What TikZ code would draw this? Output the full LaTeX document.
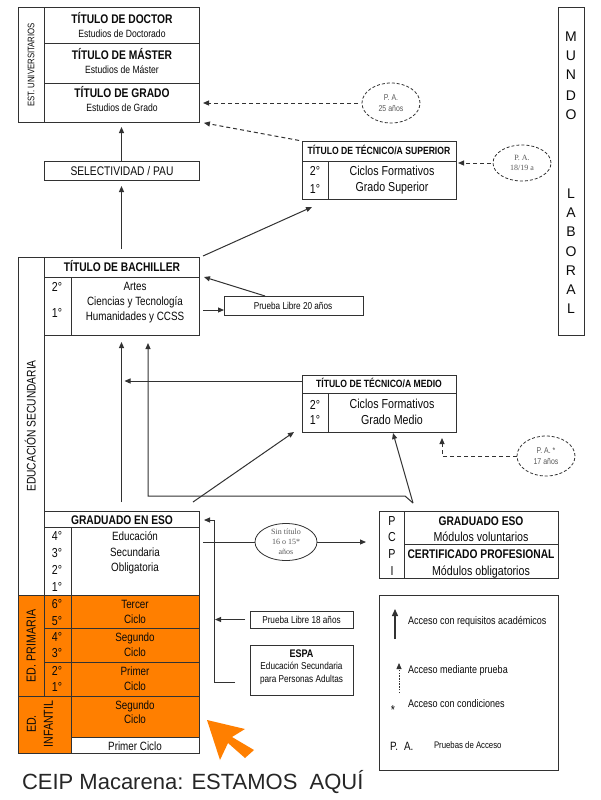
\documentclass[tikz,border=0pt]{standalone}
\usepackage{fontspec}
\setmainfont{Liberation Sans}[FakeStretch=0.82]
\newfontfamily\plainsans{Liberation Sans}
\newfontfamily\serifsm{Liberation Serif}
\usetikzlibrary{arrows.meta,shapes.geometric,calc}
\newcommand{\fsz}[1]{\fontsize{#1}{#1}\selectfont}
\definecolor{orgc}{RGB}{255,127,0}
\definecolor{lc}{RGB}{50,50,50}
\definecolor{tc}{RGB}{10,10,10}
\definecolor{gc}{RGB}{90,90,90}
\tikzset{
  box/.style={draw=lc,line width=1pt,rectangle,inner sep=0pt,outer sep=0pt,anchor=north west},
  obox/.style={box,fill=orgc},
  ln/.style={draw=lc,line width=1pt},
  tb/.style={inner sep=0pt,outer sep=0pt,text=tc,text depth=0pt},
  ttl/.style={tb,font=\fsz{12.5}\bfseries,text height=9pt},
  ttls/.style={tb,font=\fsz{10.5}\bfseries,text height=7.6pt},
  sub/.style={tb,font=\fsz{10.5},text height=7.6pt},
  mid/.style={tb,font=\fsz{12},text height=8.6pt},
  big/.style={tb,font=\fsz{13},text height=9.3pt},
  sml/.style={tb,font=\fsz{10},text height=7.2pt},
  leg/.style={tb,font=\fsz{11},text height=7.9pt,anchor=west},
  letter/.style={tb,font=\plainsans\fsz{14},text height=10pt},
  rot/.style={tb,rotate=90},
  pa/.style={ellipse,draw=lc,line width=0.8pt,dash pattern=on 3pt off 2pt,inner sep=0pt,outer sep=0pt,
     minimum width=58pt,minimum height=40pt,align=center,text=gc,font={\fontsize{8.5}{11}\selectfont}},
  arr/.style={ln,-{Triangle[length=6pt,width=5pt]}},
  darr/.style={arr,dash pattern=on 4pt off 3pt},
}
\begin{document}
\begin{tikzpicture}[x=1pt,y=-1pt]
\fill[white] (0,0) rectangle (600,800);
\useasboundingbox (0,0) rectangle (600,800);

% ---------- university ----------
\node[box,minimum width=26pt,minimum height=114pt] (univlab) at (18,8) {};
\node[box,minimum width=155pt,minimum height=36pt] (doctor) at (44,8) {};
\node[box,minimum width=155pt,minimum height=39pt] (master) at (44,44) {};
\node[box,minimum width=155pt,minimum height=39pt] (grado) at (44,83) {};
\node[rot,font=\fsz{9.5},text height=6.8pt] (tuniv) at (31,65) {EST. UNIVERSITARIOS};
\node[ttl] (tdoc) at (122,19) {TÍTULO DE DOCTOR};
\node[sub] (sdoc) at (122,34) {Estudios de Doctorado};
\node[ttl] (tmas) at (122,55) {TÍTULO DE MÁSTER};
\node[sub] (smas) at (122,70) {Estudios de Máster};
\node[ttl] (tgra) at (122,93) {TÍTULO DE GRADO};
\node[sub] (sgra) at (122,108) {Estudios de Grado};

\node[box,minimum width=155pt,minimum height=19pt] (selec) at (44,161) {};
\node[tb,font=\fsz{12.5},text height=9pt] (tsel) at (122,171) {SELECTIVIDAD / PAU};

% ---------- MUNDO LABORAL ----------
\node[box,minimum width=26pt,minimum height=327pt] (mundo) at (558,8) {};
\node[letter] (m1) at (571,37) {M};
\node[letter] (m2) at (571,56) {U};
\node[letter] (m3) at (571,75) {N};
\node[letter] (m4) at (571,95) {D};
\node[letter] (m5) at (571,114) {O};
\node[letter] (m6) at (571,193) {L};
\node[letter] (m7) at (571,212) {A};
\node[letter] (m8) at (571,231) {B};
\node[letter] (m9) at (571,251) {O};
\node[letter] (m10) at (571,270) {R};
\node[letter] (m11) at (571,289) {A};
\node[letter] (m12) at (571,308) {L};

% ---------- Tecnico superior ----------
\node[box,minimum width=154pt,minimum height=58pt] (tecsup) at (302,141) {};
\draw[ln] (302,161) -- (456,161) (328,161) -- (328,199);
\node[ttls] (tts) at (379,151) {TÍTULO DE TÉCNICO/A SUPERIOR};
\node[big] (ts2) at (315,171) {2°};
\node[big] (ts1) at (315,189) {1°};
\node[big] (ts3) at (392,171) {Ciclos Formativos};
\node[big] (ts4) at (392,187) {Grado Superior};

\node[pa] (pa25) at (391,103) {P. A.\\25 años};
\node[pa,font={\serifsm\fontsize{8}{10}\selectfont},minimum height=36pt] (pa1819) at (522,163) {P. A.\\18/19 a};

% ---------- Secundaria ----------
\node[box,minimum width=26pt,minimum height=338pt] (seclab) at (18,257) {};
\node[rot,font=\fsz{12.5},text height=9pt] (tsec) at (31,426) {EDUCACIÓN SECUNDARIA};

\node[box,minimum width=155pt,minimum height=78pt] (bach) at (44,257) {};
\draw[ln] (44,277) -- (199,277) (71,277) -- (71,335);
\node[ttl] (tbach) at (122,267) {TÍTULO DE BACHILLER};
\node[big] (b2) at (57,287) {2°};
\node[big] (b1) at (57,313) {1°};
\node[mid] (b3) at (135,286) {Artes};
\node[mid] (b4) at (135,301) {Ciencias y Tecnología};
\node[mid] (b5) at (135,316) {Humanidades y CCSS};

\node[box,minimum width=139pt,minimum height=19pt] (pl20) at (224,296) {};
\node[sml] (tpl20) at (293,305.5) {Prueba Libre 20 años};

% ---------- Tecnico medio ----------
\node[box,minimum width=154pt,minimum height=57pt] (tecmed) at (302,375) {};
\draw[ln] (302,393) -- (456,393) (328,393) -- (328,432);
\node[ttls] (ttm) at (379,384) {TÍTULO DE TÉCNICO/A MEDIO};
\node[big] (tm2) at (315,405) {2°};
\node[big] (tm1) at (315,420) {1°};
\node[big] (tm3) at (392,404) {Ciclos Formativos};
\node[big] (tm4) at (392,420) {Grado Medio};

\node[pa] (pa17) at (546,456) {P. A. *\\17 años};

% ---------- ESO ----------
\node[box,minimum width=155pt,minimum height=84pt] (eso) at (44,511) {};
\draw[ln] (44,527) -- (199,527) (71,527) -- (71,595);
\node[ttl] (teso) at (122,520) {GRADUADO EN ESO};
\node[big] (e4) at (57,536) {4°};
\node[big] (e3) at (57,553) {3°};
\node[big] (e2) at (57,570) {2°};
\node[big] (e1) at (57,587) {1°};
\node[mid] (e5) at (135,536) {Educación};
\node[mid] (e6) at (135,552) {Secundaria};
\node[mid] (e7) at (135,567) {Obligatoria};

% ---------- PCPI ----------
\node[box,minimum width=179pt,minimum height=67pt] (pcpi) at (379,511) {};
\draw[ln] (404,511) -- (404,578) (404,544) -- (558,544);
\node[big] (pc1) at (392,521) {P};
\node[big] (pc2) at (392,537) {C};
\node[big] (pc3) at (392,554) {P};
\node[big] (pc4) at (392,571) {I};
\node[ttl] (pc5) at (481,521) {GRADUADO ESO};
\node[big] (pc6) at (481,537) {Módulos voluntarios};
\node[tb,font=\fsz{12.5}\bfseries,text height=9pt] (pc7) at (481,554) {CERTIFICADO PROFESIONAL};
\node[big] (pc8) at (481,571) {Módulos obligatorios};

\node[ellipse,draw=lc,line width=0.8pt,inner sep=0pt,outer sep=0pt,minimum width=62pt,minimum height=37pt,
  align=center,text=gc,font={\serifsm\fontsize{8}{10}\selectfont}] (sint) at (286,542) {Sin título\\16 o 15*\\años};

% ---------- Primaria / Infantil ----------
\node[obox,minimum width=26pt,minimum height=101pt] (primlab) at (18,595) {};
\node[obox,minimum width=155pt,minimum height=33pt] (p3) at (44,595) {};
\node[obox,minimum width=155pt,minimum height=34pt] (p2) at (44,628) {};
\node[obox,minimum width=155pt,minimum height=34pt] (p1) at (44,662) {};
\draw[ln] (71,595) -- (71,696);
\node[obox,minimum width=53pt,minimum height=57pt] (inflab) at (18,696) {};
\node[obox,minimum width=128pt,minimum height=41pt] (inf2) at (71,696) {};
\node[box,minimum width=128pt,minimum height=16pt] (inf1) at (71,737) {};
\node[rot,font=\fsz{13},text height=9.3pt] (tprim) at (31,646) {ED. PRIMARIA};
\node[rot,inner sep=0pt,text=tc,font={\fontsize{13}{17}\selectfont},align=center] (tinf) at (40,724) {ED.\\INFANTIL};
\node[big] (q6) at (57,604) {6°};
\node[big] (q5) at (57,621) {5°};
\node[big] (q4) at (57,637) {4°};
\node[big] (q3) at (57,653) {3°};
\node[big] (q2) at (57,671) {2°};
\node[big] (q1) at (57,687) {1°};
\node[mid] (r1) at (135,604) {Tercer};
\node[mid] (r2) at (135,619) {Ciclo};
\node[mid] (r3) at (135,637) {Segundo};
\node[mid] (r4) at (135,652) {Ciclo};
\node[mid] (r5) at (135,671) {Primer};
\node[mid] (r6) at (135,686) {Ciclo};
\node[mid] (r7) at (135,705) {Segundo};
\node[mid] (r8) at (135,719) {Ciclo};
\node[mid] (r9) at (135,746) {Primer Ciclo};

% ---------- ESPA / prueba 18 ----------
\node[box,minimum width=103pt,minimum height=17pt] (pl18) at (250,611) {};
\node[sml] (tpl18) at (301.5,619.5) {Prueba Libre 18 años};
\node[box,minimum width=103pt,minimum height=50pt] (espa) at (250,645) {};
\node[tb,font=\fsz{11}\bfseries,text height=8pt] (es1) at (301.5,653) {ESPA};
\node[sml] (es2) at (301.5,666) {Educación Secundaria};
\node[sml] (es3) at (301.5,679) {para Personas Adultas};

% ---------- Legend ----------
\node[box,minimum width=179pt,minimum height=175pt] (legend) at (379,595) {};
\coordinate (la1) at (395,639);
\coordinate (la2) at (395,609);
\coordinate (lb1) at (399,693);
\coordinate (lb2) at (399,663);
\draw[draw=lc,line width=1.4pt,-{Triangle[length=7pt,width=6pt]}] (la1) -- (la2);
\draw[draw=lc,line width=0.8pt,dash pattern=on 1.5pt off 1.2pt,-{Triangle[length=6pt,width=5pt]}] (lb1) -- (lb2);
\node[leg] (l1) at (408,621) {Acceso con requisitos académicos};
\node[leg] (l2) at (408,670) {Acceso mediante prueba};
\node[tb,font=\fsz{13},text height=6pt] (l3s) at (393,711) {*};
\node[leg] (l3) at (408,704) {Acceso con condiciones};
\node[tb,font=\fsz{12},text height=8.6pt,anchor=west] (l4s) at (390,746) {P.\hspace{0.5em}A.};
\node[tb,font=\fsz{9.5},text height=6.8pt,anchor=west] (l4) at (434,745) {Pruebas de Acceso};

% ---------- connectors ----------
\draw[arr,shorten >=5pt] (selec.north) -- (grado.south);
\draw[arr,shorten <=8pt,shorten >=6pt] (bach.north) -- (selec.south);
\draw[darr,shorten <=4pt,shorten >=4pt] (pa25.west) -- (pa25.west -| grado.east);
\draw[darr,shorten <=3pt,shorten >=5pt] (tecsup.north west) -- (grado.south east);
\draw[darr,shorten <=2pt,shorten >=2pt] (pa1819.west) -- (pa1819.west -| tecsup.east);
\draw[arr] ($(bach.north east)+(4,-1)$) -- ($(tecsup.south west)+(10,8)$);
\draw[arr] ($(pl20.north west)+(41,0)$) -- ($(bach.north east)+(5,20)$);
\draw[arr] ($(bach.east)+(4,14)$) -- ($(pl20.west)+(0,4.5)$);

\draw[arr,shorten <=9pt,shorten >=7pt] (eso.north) -- (bach.south);
\coordinate (pc) at ($(pcpi.north west)+(34,-8)$);
\draw[arr] (pc) -- ($(pcpi.north west)+(26,-15)$) -- ($(bach.south west)+(104,161)$) -- ($(bach.south west)+(104,8)$);
\coordinate (tm) at ($(tecmed.north west)+(0,6)$);
\draw[arr,shorten >=3pt] (tm) -- (tm -| eso.north);
\draw[arr] ($(eso.north east)+(-6,-9)$) -- ($(tecmed.south west)+(-8,0)$);
\draw[arr] (pc) -- ($(tecmed.south)+(14,1)$);
\draw[darr] (pa17.west) -| ($(tecmed.south east)+(-14,6)$);

\draw[ln] ($(eso.north east)+(4,31)$) -- (sint.west);
\draw[arr,shorten >=13pt] (sint.east) -- (sint.east -| pcpi.west);
\draw[arr] ($(espa.west)+(-15,12)$) -- ($(espa.west)+(-36,12)$) -- ($(eso.north east)+(15,9)$) -- ($(eso.north east)+(5,9)$);
\draw[arr,shorten <=5pt] (pl18.west) -- ($(pl18.west)+(-35,0)$);

% ---------- orange pointer and caption ----------
\fill[orgc] (207,720) -- (245,729) -- (232,737) -- (254,750) -- (245,758) -- (228,743) -- (220,760) -- cycle;
\node[tb,anchor=west,font=\plainsans\fsz{22},text height=15.8pt,text=black!85] (cap) at (22,781.5) {CEIP Macarena: ESTAMOS\hspace{0.55em}AQUÍ};
\end{tikzpicture}
\end{document}
